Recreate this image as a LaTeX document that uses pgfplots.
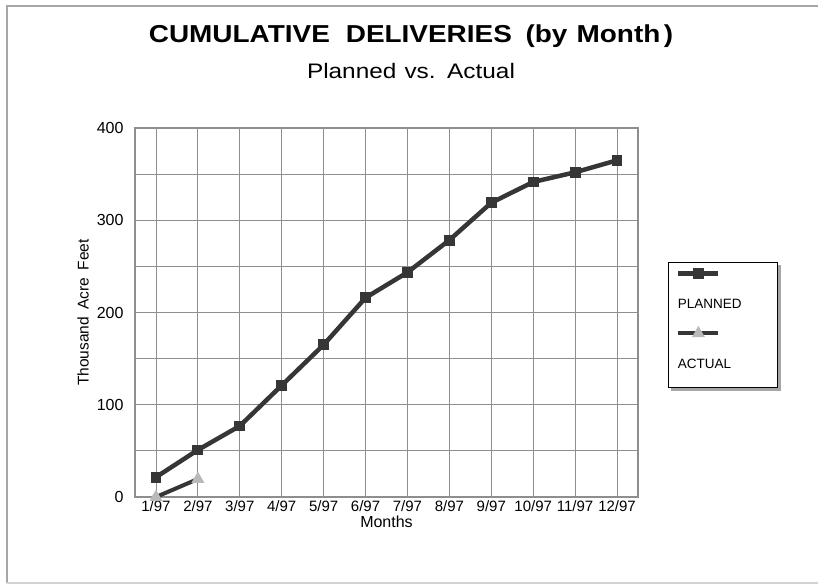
\documentclass[border=0pt]{standalone}
\usepackage{graphicx}
\usepackage{pgfplots}
\pgfplotsset{compat=1.18}
\usepackage{fontspec}
\setmainfont{Liberation Sans}
\definecolor{lineC}{HTML}{363636}
\definecolor{gridC}{HTML}{8E8E8E}
\begin{document}
\begin{tikzpicture}[x=1pt,y=1pt]
\path (0,0) rectangle (819,584);
\draw[gray!70, line width=2pt] (7,1) -- (7,578) -- (818,578);
\draw[gray!35, line width=1.5pt] (7,1) -- (818,1);
\node[font=\fontsize{24.5}{28}\selectfont\bfseries] at (411,547.5) {\scalebox{1.14}[1]{CUMULATIVE\hspace{14pt}DELIVERIES\hspace{12pt}(by\hspace{8pt}Month\hspace{3pt})}};
\node[font=\fontsize{21}{24}\selectfont] at (411,513) {\scalebox{1.16}[1]{Planned\hspace{7pt}vs.\hspace{10pt}Actual}};
\begin{axis}[
  at={(135pt,87pt)}, anchor=south west,
  scale only axis, width=503pt, height=369pt,
  xmin=0.5, xmax=12.5, ymin=0, ymax=400,
  xtick={1,2,3,4,5,6,7,8,9,10,11,12},
  xticklabels={1/97,2/97,3/97,4/97,5/97,6/97,7/97,8/97,9/97,10/97,11/97,12/97},
  ytick={0,100,200,300,400}, minor ytick={50,150,250,350},
  grid=both,
  major grid style={gridC, line width=0.9pt},
  minor grid style={gridC, line width=0.9pt},
  axis line style={gridC, line width=1.2pt},
  major tick length=0pt, minor tick length=0pt,
  xticklabel style={font=\fontsize{15}{17}\selectfont},
  yticklabel style={font=\fontsize{16}{18}\selectfont, xshift=-8pt},
  /pgf/number format/assume math mode=true,
  ylabel={Thousand\hspace{3pt} Acre\hspace{3pt} Feet},
  ylabel style={font=\fontsize{15.5}{18}\selectfont, at={(rel axis cs:-0.103,0.5)}, anchor=center},
  xlabel={Months},
  xlabel style={font=\fontsize{16}{18}\selectfont, at={(rel axis cs:0.5,-0.068)}, anchor=center},
  legend style={at={(1.0596,0.6369)}, anchor=north west, draw=black, line width=0.8pt,
    fill=white, inner xsep=7.5pt, inner ysep=8pt, row sep=11pt,
    font=\fontsize{13.5}{16}\selectfont, name=leg},
  legend cell align=left,
  legend image code/.code={
    \draw[#1, overlay, mark repeat=2, mark phase=2] plot coordinates {(2.5pt,31pt) (22.5pt,31pt) (42.5pt,31pt)};
    \path[draw=none] (0,-15pt) -- (0,34pt);
  },
]
\addplot[lineC, line width=4.5pt, mark=square*, mark size=3.2pt, mark options={solid, fill=lineC, draw=lineC}]
  coordinates {(1,21.5)(2,51)(3,77)(4,121)(5,165)(6,216)(7,243.5)(8,278.5)(9,319)(10,341.5)(11,352)(12,365)};
\addlegendentry{\makebox[90pt][l]{PLANNED}}
\addplot[lineC, line width=4pt, mark=triangle*, mark size=3.5pt, mark options={solid, fill=gray!55, draw=gray!55}]
  coordinates {(1,0)(2,19.5)};
\addlegendentry{\makebox[90pt][l]{ACTUAL}}
\end{axis}
\fill[gray!70] ([xshift=3pt,yshift=-3.5pt]leg.south west) rectangle ([xshift=3.5pt,yshift=-0.4pt]leg.south east);
\fill[gray!70] ([xshift=0.4pt,yshift=-3.5pt]leg.south east) rectangle ([xshift=3.5pt,yshift=-3pt]leg.north east);
\end{tikzpicture}
\end{document}
